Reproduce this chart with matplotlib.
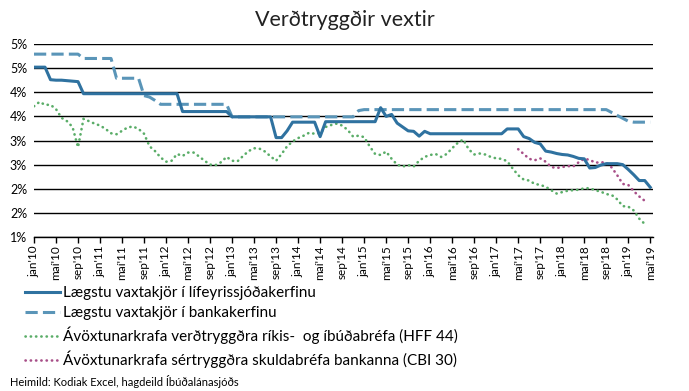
import numpy as np
import matplotlib.pyplot as plt

plt.rcParams['font.family'] = ['Lato', 'DejaVu Sans']

# Mánaðargögn, jan 2010 (0) til maí 2019 (112)
lifeyrissjodir = ([4.52] * 3 + [4.26, 4.25, 4.25, 4.24, 4.23, 4.22] + [3.97] * 18
                  + [3.60] * 9 + [3.49] * 8
                  + [3.06, 3.06, 3.20, 3.38, 3.38, 3.38, 3.38, 3.38, 3.08]
                  + [3.39] * 10
                  + [3.68, 3.50, 3.54, 3.36, 3.28, 3.20, 3.19, 3.09, 3.19]
                  + [3.14] * 14
                  + [3.24, 3.24, 3.24, 3.08, 3.04, 2.96, 2.93, 2.78, 2.76, 2.73, 2.71,
                     2.70, 2.67, 2.63, 2.62, 2.43, 2.44, 2.49, 2.52, 2.52, 2.52, 2.50,
                     2.40, 2.29, 2.17, 2.17, 2.03])

bankar = ([4.79] * 9 + [4.70] * 6 + [4.29] * 5 + [3.93, 3.90, 3.83] + [3.75] * 13
          + [3.49] * 23 + [3.62] + [3.64] * 45
          + [3.58, 3.52, 3.46, 3.40] + [3.38] * 4)

hff44 = [3.71, 3.80, 3.74, 3.74, 3.65, 3.47, 3.40, 3.28, 2.86, 3.45,
         3.40, 3.35, 3.31, 3.24, 3.15, 3.13, 3.20, 3.27, 3.29, 3.24,
         3.14, 2.88, 2.78, 2.65, 2.56, 2.58, 2.72, 2.68, 2.75, 2.75,
         2.67, 2.58, 2.50, 2.49, 2.55, 2.66, 2.58, 2.57, 2.68, 2.78,
         2.84, 2.83, 2.77, 2.67, 2.58, 2.72, 2.88, 2.98, 3.05, 3.10,
         3.16, 3.14, 3.15, 3.28, 3.32, 3.35, 3.31, 3.22, 3.08, 3.10,
         3.07, 2.88, 2.72, 2.70, 2.77, 2.62, 2.50, 2.46, 2.49, 2.46,
         2.58, 2.66, 2.70, 2.72, 2.66, 2.72, 2.84, 2.95, 3.02, 2.82,
         2.71, 2.73, 2.71, 2.66, 2.63, 2.62, 2.57, 2.42, 2.28, 2.19,
         2.17, 2.10, 2.08, 2.04, 1.97, 1.90, 1.93, 1.96, 1.97, 1.98,
         2.01, 2.01, 1.97, 1.94, 1.89, 1.87, 1.78, 1.64, 1.63, 1.55,
         1.38, 1.27]

cbi30_start = 88
cbi30 = [2.82, 2.72, 2.62, 2.59, 2.63, 2.56, 2.45, 2.43, 2.45, 2.47,
         2.46, 2.55, 2.62, 2.60, 2.54, 2.55, 2.54, 2.44, 2.28, 2.10,
         2.08, 1.95, 1.84, 1.75]

manudir = ['jan', 'maí', 'sep']
xlabels = [f"{manudir[i % 3]}'{10 + i // 3}" for i in range(29)]

c_solid = '#2f72a0'
c_dash = '#5a95b8'
c_green = '#5aad68'
c_purple = '#a84f88'

fig = plt.figure(figsize=(6.89, 3.91), dpi=100)
ax = fig.add_axes([34 / 689, 1 - 237 / 391, (653 - 34) / 689, (237 - 44) / 391])

m1 = np.arange(len(lifeyrissjodir))
m2 = np.arange(len(bankar))
m3 = np.arange(len(hff44))
m4 = np.arange(len(cbi30)) + cbi30_start

ax.plot(m1, lifeyrissjodir, color=c_solid, lw=2.2, solid_joinstyle='round',
        label='Lægstu vaxtakjör í lífeyrissjóðakerfinu', zorder=4)
ax.plot(m2, bankar, color=c_dash, lw=2.2, ls=(0, (4, 1.7)),
        label='Lægstu vaxtakjör í bankakerfinu', zorder=3)
ax.plot(m3, hff44, color=c_green, lw=1.9, ls=(0, (0.1, 1.9)), dash_capstyle='round',
        label='Ávöxtunarkrafa verðtryggðra ríkis-  og íbúðabréfa (HFF 44)', zorder=3)
ax.plot(m4, cbi30, color=c_purple, lw=1.9, ls=(0, (0.1, 1.9)), dash_capstyle='round',
        label='Ávöxtunarkrafa sértryggðra skuldabréfa bankanna (CBI 30)', zorder=3)

ax.set_xlim(0, 112.5)
ax.set_ylim(1.0, 5.0)
yt = np.arange(1.0, 5.01, 0.5)
ax.set_yticks(yt)
ax.set_yticklabels([f"{int(np.floor(v + 0.5))}%" for v in yt], fontsize=9)
ax.set_xticks(np.arange(0, 113, 4))
ax.set_xticklabels(xlabels, rotation=90, fontsize=8.5)
ax.tick_params(axis='y', length=0, pad=5)
ax.tick_params(axis='x', length=4, width=1, color='black', pad=2)
ax.grid(axis='y', color='black', lw=1)
ax.set_axisbelow(True)
for s in ['top', 'right', 'left']:
    ax.spines[s].set_visible(False)
ax.spines['bottom'].set_color('black')
ax.spines['bottom'].set_linewidth(1)

fig.text(0.5, 1 - 20 / 391, 'Verðtryggðir vextir', ha='center', va='center',
         fontsize=15.5, color='#222222')

fig.legend(loc='upper left', bbox_to_anchor=(25 / 689, 1 - 286 / 391),
           frameon=False, fontsize=11, handlelength=2.3, handletextpad=0.2,
           labelspacing=0.42, borderpad=0, borderaxespad=0)

fig.text(10 / 689, 1 - 382 / 391, 'Heimild: Kodiak Excel, hagdeild Íbúðalánasjóðs',
         fontsize=8, va='center', ha='left')

fig.savefig('out.png', dpi=100)
